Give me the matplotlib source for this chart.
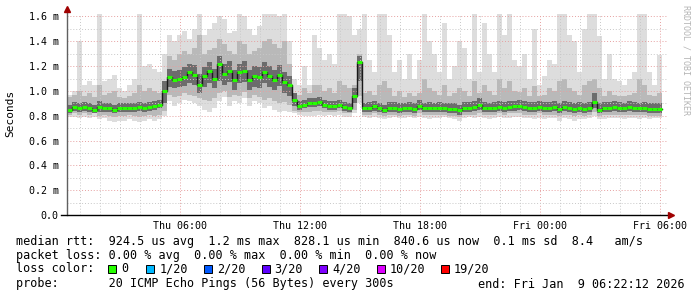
import numpy as np
import pandas as pd
import matplotlib
matplotlib.use("Agg")
import matplotlib.pyplot as plt
import matplotlib.dates as mdates
from matplotlib.lines import Line2D
from matplotlib.patches import Rectangle
from matplotlib.ticker import MultipleLocator, FuncFormatter

plt.rcParams['font.family'] = ['DejaVu Sans Mono']

# 15 minute bins, values in ms
start = pd.Timestamp("2026-01-08 00:22:12")
end = pd.Timestamp("2026-01-09 06:22:12")

median = [0.85, 0.87, 0.86, 0.87, 0.86, 0.85, 0.87, 0.86, 0.86, 0.85,
          0.86, 0.86, 0.86, 0.86, 0.87, 0.86, 0.87, 0.88, 0.89, 1.00,
          1.11, 1.09, 1.10, 1.11, 1.15, 1.13, 1.05, 1.12, 1.16, 1.10,
          1.22, 1.14, 1.16, 1.09, 1.15, 1.16, 1.09, 1.12, 1.11, 1.15,
          1.12, 1.09, 1.13, 1.07, 1.05,
          0.93, 0.88, 0.89, 0.90, 0.90, 0.91, 0.89, 0.88, 0.88, 0.89,
          0.87, 0.86, 0.96, 1.23,
          0.86, 0.865, 0.875, 0.86, 0.85, 0.86, 0.865, 0.855, 0.86, 0.86,
          0.855, 0.88, 0.86, 0.86, 0.86, 0.86, 0.86, 0.855, 0.855, 0.845,
          0.86, 0.865, 0.87, 0.89, 0.86, 0.86, 0.865, 0.87, 0.865, 0.87,
          0.875, 0.88, 0.87, 0.865, 0.86, 0.87, 0.865, 0.865, 0.87, 0.855,
          0.87, 0.86, 0.855, 0.86, 0.855, 0.86, 0.91, 0.85, 0.86, 0.865,
          0.87, 0.865, 0.86, 0.87, 0.86, 0.86, 0.865, 0.855, 0.855, 0.855]

core_lo = [0.82, 0.84, 0.83, 0.84, 0.83, 0.82, 0.83, 0.83, 0.83, 0.82,
           0.83, 0.83, 0.83, 0.83, 0.84, 0.83, 0.84, 0.85, 0.86, 0.90,
           1.03, 1.02, 1.03, 1.04, 1.06, 1.05, 0.98, 1.03, 1.06, 1.02,
           1.08, 1.05, 1.07, 1.01, 1.06, 1.07, 1.01, 1.03, 1.02, 1.06,
           1.03, 1.01, 1.04, 0.98, 0.96,
           0.88, 0.85, 0.86, 0.87, 0.87, 0.88, 0.86, 0.85, 0.85, 0.86,
           0.84, 0.83, 0.90, 1.08,
           0.83, 0.83, 0.84, 0.83, 0.82, 0.83, 0.83, 0.82, 0.83, 0.83,
           0.82, 0.85, 0.83, 0.83, 0.83, 0.83, 0.83, 0.82, 0.82, 0.81,
           0.83, 0.83, 0.84, 0.85, 0.83, 0.83, 0.83, 0.84, 0.83, 0.84,
           0.84, 0.85, 0.84, 0.83, 0.83, 0.84, 0.83, 0.83, 0.84, 0.82,
           0.84, 0.83, 0.82, 0.83, 0.82, 0.83, 0.86, 0.82, 0.83, 0.83,
           0.84, 0.83, 0.83, 0.84, 0.83, 0.83, 0.83, 0.82, 0.82, 0.82]

core_hi = [0.89, 0.91, 0.90, 0.91, 0.90, 0.89, 0.92, 0.90, 0.90, 0.89,
           0.90, 0.90, 0.90, 0.90, 0.91, 0.90, 0.91, 0.92, 0.93, 1.08,
           1.18, 1.16, 1.17, 1.19, 1.22, 1.21, 1.14, 1.19, 1.23, 1.18,
           1.28, 1.22, 1.24, 1.17, 1.22, 1.24, 1.17, 1.20, 1.19, 1.23,
           1.20, 1.17, 1.21, 1.15, 1.12,
           0.98, 0.92, 0.93, 0.94, 0.94, 0.95, 0.93, 0.92, 0.92, 0.93,
           0.91, 0.90, 1.02, 1.28,
           0.90, 0.91, 0.92, 0.90, 0.89, 0.91, 0.91, 0.90, 0.90, 0.91,
           0.90, 0.93, 0.90, 0.91, 0.90, 0.91, 0.90, 0.90, 0.90, 0.89,
           0.91, 0.91, 0.92, 0.94, 0.91, 0.90, 0.91, 0.92, 0.91, 0.92,
           0.92, 0.93, 0.92, 0.91, 0.91, 0.92, 0.91, 0.91, 0.92, 0.90,
           0.92, 0.91, 0.90, 0.91, 0.90, 0.91, 0.98, 0.90, 0.91, 0.91,
           0.92, 0.91, 0.90, 0.92, 0.91, 0.90, 0.91, 0.90, 0.90, 0.90]

mid_lo = [0.81, 0.82, 0.81, 0.82, 0.81, 0.82, 0.80, 0.81, 0.80, 0.79,
          0.80, 0.80, 0.81, 0.80, 0.79, 0.80, 0.81, 0.80, 0.81, 0.84,
          0.97, 0.95, 0.96, 0.98, 0.97, 0.96, 0.94, 0.93, 0.92, 0.94,
          0.98, 1.00, 0.95, 0.97, 0.96, 0.99, 0.94, 0.97, 0.95, 0.93,
          0.94, 0.92, 0.90, 0.91, 0.89,
          0.84, 0.83, 0.83, 0.83, 0.84, 0.84, 0.83, 0.83, 0.83, 0.84,
          0.82, 0.82, 0.85, 0.96,
          0.81, 0.81, 0.82, 0.81, 0.80, 0.81, 0.81, 0.80, 0.81, 0.81,
          0.80, 0.82, 0.81, 0.81, 0.81, 0.81, 0.81, 0.80, 0.80, 0.79,
          0.81, 0.81, 0.81, 0.82, 0.81, 0.81, 0.81, 0.82, 0.81, 0.82,
          0.82, 0.82, 0.81, 0.81, 0.81, 0.82, 0.81, 0.81, 0.81, 0.80,
          0.81, 0.81, 0.80, 0.81, 0.80, 0.81, 0.83, 0.80, 0.81, 0.81,
          0.81, 0.81, 0.81, 0.81, 0.81, 0.81, 0.81, 0.80, 0.80, 0.80]

mid_hi = [0.95, 0.97, 1.00, 0.96, 0.98, 0.95, 1.05, 0.97, 0.98, 1.00,
          0.95, 0.94, 0.96, 0.98, 1.05, 1.00, 1.02, 1.00, 0.98, 1.05,
          1.28, 1.25, 1.30, 1.32, 1.30, 1.35, 1.45, 1.30, 1.33, 1.35,
          1.42, 1.38, 1.32, 1.30, 1.40, 1.38, 1.30, 1.32, 1.35, 1.40,
          1.42, 1.38, 1.35, 1.40, 1.22,
          0.98, 0.97, 1.02, 0.98, 1.05, 1.05, 1.00, 1.02, 0.98, 1.08,
          1.05, 1.02, 1.05, 1.30,
          0.98, 1.00, 0.97, 1.05, 1.08, 1.02, 0.96, 1.00, 0.95, 0.98,
          0.96, 0.98, 1.10, 1.02, 1.00, 0.97, 1.05, 0.96, 0.98, 1.02,
          1.00, 0.96, 1.08, 0.98, 1.05, 1.00, 0.97, 1.10, 1.02, 1.08,
          1.00, 0.99, 1.02, 0.96, 1.04, 0.96, 0.97, 1.02, 1.00, 1.08,
          1.10, 1.02, 1.00, 0.97, 1.05, 1.08, 1.10, 1.02, 0.96, 1.00,
          0.97, 0.96, 0.96, 0.97, 0.98, 1.10, 1.05, 0.97, 0.96, 0.98]

outer_lo = [0.79, 0.79, 0.78, 0.79, 0.78, 0.79, 0.77, 0.78, 0.76, 0.75,
            0.76, 0.76, 0.77, 0.76, 0.75, 0.76, 0.77, 0.76, 0.77, 0.80,
            0.92, 0.88, 0.90, 0.93, 0.92, 0.90, 0.88, 0.85, 0.83, 0.86,
            0.92, 0.95, 0.88, 0.92, 0.90, 0.94, 0.88, 0.92, 0.90, 0.86,
            0.88, 0.85, 0.83, 0.84, 0.83,
            0.82, 0.81, 0.80, 0.80, 0.80, 0.81, 0.80, 0.81, 0.80, 0.81,
            0.79, 0.79, 0.82, 0.90,
            0.79, 0.78, 0.79, 0.78, 0.77, 0.78, 0.79, 0.78, 0.78, 0.79,
            0.78, 0.79, 0.78, 0.77, 0.78, 0.78, 0.79, 0.78, 0.77, 0.76,
            0.78, 0.79, 0.78, 0.79, 0.78, 0.77, 0.78, 0.79, 0.78, 0.78,
            0.79, 0.79, 0.78, 0.78, 0.77, 0.78, 0.77, 0.78, 0.78, 0.76,
            0.78, 0.77, 0.76, 0.77, 0.77, 0.78, 0.80, 0.77, 0.77, 0.78,
            0.78, 0.78, 0.77, 0.78, 0.78, 0.77, 0.78, 0.77, 0.78, 0.78]

outer_hi = [0.97, 1.00, 1.40, 1.05, 1.08, 1.05, 1.70, 1.08, 1.10, 1.13,
            1.02, 1.00, 1.05, 1.10, 1.70, 1.20, 1.22, 1.18, 1.15, 1.30,
            1.45, 1.40, 1.45, 1.48, 1.42, 1.50, 1.70, 1.45, 1.50, 1.55,
            1.60, 1.58, 1.47, 1.48, 1.62, 1.60, 1.50, 1.45, 1.52, 1.62,
            1.65, 1.62, 1.60, 1.62, 1.40,
            1.10, 1.05, 1.20, 1.05, 1.45, 1.35, 1.25, 1.30, 1.22, 1.65,
            1.62, 1.60, 1.45, 1.50,
            1.70, 1.25, 1.15, 1.70, 1.70, 1.45, 1.15, 1.25, 1.10, 1.30,
            1.10, 1.25, 1.70, 1.40, 1.30, 1.15, 1.55, 1.10, 1.20, 1.40,
            1.35, 1.10, 1.70, 1.15, 1.55, 1.30, 1.15, 1.70, 1.45, 1.70,
            1.25, 1.20, 1.30, 1.10, 1.50, 1.05, 1.12, 1.25, 1.22, 1.70,
            1.70, 1.45, 1.40, 1.15, 1.50, 1.70, 1.70, 1.44, 1.10, 1.30,
            1.10, 1.08, 1.05, 1.10, 1.15, 1.70, 1.70, 1.15, 1.05, 1.29]

loss_labels = ["0", "1/20", "2/20", "3/20", "4/20", "10/20", "19/20"]
loss_colors = ["#26ff00", "#00b8ff", "#0059ff", "#5e00ff", "#7e00ff", "#dd00ff", "#ff0000"]

stats = "median rtt:  924.5 us avg  1.2 ms max  828.1 us min  840.6 us now  0.1 ms sd  8.4   am/s"
loss = "packet loss: 0.00 % avg  0.00 % max  0.00 % min  0.00 % now"
probe = "probe:       20 ICMP Echo Pings (56 Bytes) every 300s"
end_txt = "end: Fri Jan  9 06:22:12 2026"

n = len(median)
t = pd.date_range(start, periods=n + 1, freq="15min")
tx = mdates.date2num(t.to_pydatetime())

def ext(a):
    a = np.asarray(a, float)
    return np.append(a, a[-1])

W, H = 697, 297
fig = plt.figure(figsize=(W / 100, H / 100), dpi=100)
ax = fig.add_axes([67 / W, (H - 215) / H, 600 / W, (215 - 14) / H])

ax.fill_between(tx, ext(outer_lo), ext(outer_hi), step="post", color="#dddddd", lw=0, zorder=1)
ax.fill_between(tx, ext(mid_lo), ext(mid_hi), step="post", color="#b9b9b9", lw=0, zorder=1.2)
ax.fill_between(tx, ext(core_lo), ext(core_hi), step="post", color="#6c6c6c", lw=0, zorder=1.4)
ax.step(tx, ext(median), where="post", color="#1a1a1a", lw=1.0, zorder=4)
ax.hlines(median, tx[:-1], tx[1:], color="#26ff00", lw=2.2, zorder=5)

ax.set_xlim(tx[0], mdates.date2num(end.to_pydatetime()))
ax.set_ylim(0, 1.62)

ax.xaxis.set_major_locator(mdates.HourLocator(byhour=[0, 6, 12, 18]))
ax.xaxis.set_minor_locator(mdates.HourLocator())
ax.xaxis.set_major_formatter(mdates.DateFormatter("%a %H:%M"))
ax.yaxis.set_major_locator(MultipleLocator(0.2))
ax.yaxis.set_minor_locator(MultipleLocator(0.1))
ax.yaxis.set_major_formatter(FuncFormatter(lambda v, p: "0.0" if abs(v) < 1e-9 else "%.1f m" % v))

ax.set_axisbelow(False)
ax.grid(which="minor", color="#c8c8c8", ls=(0, (1, 2)), lw=0.7)
ax.grid(which="major", color="#e6a0a0", ls=(0, (1, 2)), lw=0.7)
ax.tick_params(which="both", length=0, labelsize=7.2)
ax.tick_params(axis="y", pad=6)
ax.tick_params(axis="x", pad=4)

for s in ["top", "right", "left", "bottom"]:
    ax.spines[s].set_visible(False)

def fx(px):
    return px / W

def fy(py):
    return 1 - py / H

fig.add_artist(Line2D([fx(67), fx(67)], [fy(215), fy(10)], color="#606060", lw=1))
fig.add_artist(Line2D([fx(61), fx(670)], [fy(215), fy(215)], color="black", lw=1))
fig.add_artist(Line2D([fx(67)], [fy(9)], marker="^", color="#a00000", ms=4, lw=0))
fig.add_artist(Line2D([fx(671)], [fy(215)], marker=">", color="#a00000", ms=4, lw=0))

fig.text(fx(10), fy(113), "Seconds", rotation=90, ha="center", va="center", fontsize=8)
fig.text(fx(686), fy(5), "RRDTOOL / TOBI OETIKER", rotation=270, ha="center", va="top",
         fontsize=6, color="#b4b4b4")

fs = 8.5
fig.text(fx(16), fy(241), stats, fontsize=fs, va="center")
fig.text(fx(16), fy(255), loss, fontsize=fs, va="center")
fig.text(fx(16), fy(269), "loss color:", fontsize=fs, va="center")
fig.text(fx(16), fy(284), probe, fontsize=fs, va="center")
fig.text(fx(478), fy(284), end_txt, fontsize=fs, va="center")

x = 108
for lab, col in zip(loss_labels, loss_colors):
    fig.add_artist(Rectangle((fx(x), fy(273)), 8 / W, 8 / H, facecolor=col,
                             edgecolor="black", lw=0.7))
    fig.text(fx(x + 13), fy(269), lab, fontsize=fs, va="center")
    x += 13 + len(lab) * 6.4 + 19

fig.savefig("out.png", dpi=100, facecolor="white")
